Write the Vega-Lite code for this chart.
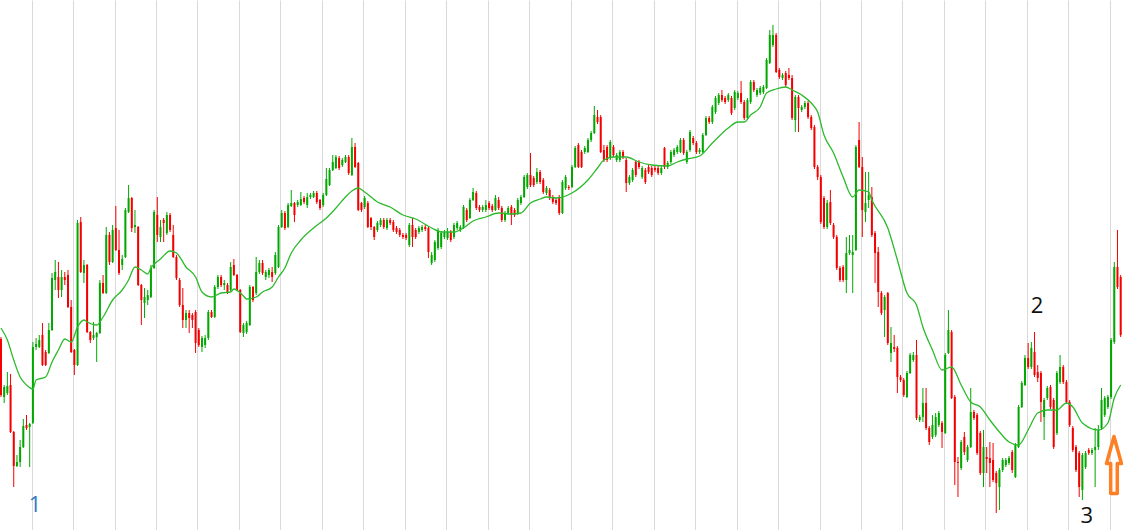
{
  "$schema": "https://vega.github.io/schema/vega-lite/v6.json",
  "description": "Weekly candlesticks with a moving average and marked turning points 1, 2, 3",
  "width": 1123,
  "height": 530,
  "autosize": {"type": "none"},
  "padding": 0,
  "background": "white",
  "datasets": {
    "candles": [
      {"t":0,"o":191,"h":193,"l":133,"c":135},{"t":1,"o":133,"h":145,"l":127,"c":143},{"t":2,"o":137,"h":158,"l":135,"c":144},
      {"t":3,"o":145,"h":156,"l":97,"c":98},{"t":4,"o":98,"h":99,"l":43,"c":64},{"t":5,"o":64,"h":75,"l":63,"c":68},
      {"t":6,"o":68,"h":90,"l":63,"c":83},{"t":7,"o":83,"h":111,"l":82,"c":104},{"t":8,"o":105,"h":115,"l":100,"c":102},
      {"t":9,"o":103,"h":107,"l":63,"c":106},{"t":10,"o":107,"h":188,"l":106,"c":183},{"t":11,"o":183,"h":192,"l":180,"c":186},
      {"t":12,"o":183,"h":195,"l":182,"c":190},{"t":13,"o":195,"h":207,"l":164,"c":165},{"t":14,"o":178,"h":180,"l":164,"c":165},
      {"t":15,"o":177,"h":207,"l":176,"c":200},{"t":16,"o":200,"h":257,"l":199,"c":252},{"t":17,"o":250,"h":270,"l":240,"c":258},
      {"t":18,"o":253,"h":268,"l":232,"c":240},{"t":19,"o":240,"h":260,"l":233,"c":253},{"t":20,"o":253,"h":258,"l":245,"c":250},
      {"t":21,"o":255,"h":260,"l":222,"c":223},{"t":22,"o":223,"h":230,"l":177,"c":178},{"t":23,"o":180,"h":181,"l":155,"c":165},
      {"t":24,"o":165,"h":310,"l":164,"c":307},{"t":25,"o":308,"h":313,"l":257,"c":258},{"t":26,"o":257,"h":270,"l":247,"c":265},
      {"t":27,"o":265,"h":266,"l":197,"c":198},{"t":28,"o":198,"h":199,"l":187,"c":190},{"t":29,"o":192,"h":208,"l":190,"c":195},
      {"t":30,"o":193,"h":198,"l":168,"c":197},{"t":31,"o":197,"h":250,"l":196,"c":247},{"t":32,"o":247,"h":255,"l":236,"c":237},
      {"t":33,"o":237,"h":303,"l":236,"c":295},{"t":34,"o":295,"h":298,"l":265,"c":268},{"t":35,"o":268,"h":305,"l":267,"c":300},
      {"t":36,"o":302,"h":324,"l":279,"c":280},{"t":37,"o":280,"h":300,"l":255,"c":257},{"t":38,"o":265,"h":275,"l":260,"c":271},
      {"t":39,"o":273,"h":322,"l":272,"c":320},{"t":40,"o":318,"h":345,"l":317,"c":332},{"t":41,"o":332,"h":333,"l":298,"c":302},
      {"t":42,"o":303,"h":320,"l":297,"c":305},{"t":43,"o":303,"h":304,"l":244,"c":245},
      {"t":44,"o":245,"h":246,"l":205,"c":230},{"t":45,"o":227,"h":242,"l":212,"c":233},{"t":46,"o":230,"h":240,"l":225,"c":235},
      {"t":47,"o":233,"h":265,"l":232,"c":262},{"t":48,"o":262,"h":320,"l":261,"c":318},{"t":49,"o":315,"h":333,"l":288,"c":295},
      {"t":50,"o":293,"h":310,"l":288,"c":303},{"t":51,"o":310,"h":312,"l":288,"c":307},{"t":52,"o":297,"h":318,"l":295,"c":315},
      {"t":53,"o":315,"h":317,"l":298,"c":300},{"t":54,"o":295,"h":305,"l":272,"c":273},{"t":55,"o":273,"h":275,"l":250,"c":252},
      {"t":56,"o":250,"h":252,"l":223,"c":225},{"t":57,"o":225,"h":242,"l":202,"c":210},{"t":58,"o":210,"h":220,"l":202,"c":217},
      {"t":59,"o":217,"h":220,"l":197,"c":212},{"t":60,"o":215,"h":217,"l":202,"c":210},{"t":61,"o":218,"h":220,"l":177,"c":187},
      {"t":62,"o":200,"h":202,"l":183,"c":185},{"t":63,"o":183,"h":194,"l":178,"c":192},{"t":64,"o":185,"h":195,"l":182,"c":192},
      {"t":65,"o":192,"h":220,"l":190,"c":218},{"t":66,"o":218,"h":220,"l":212,"c":213},{"t":67,"o":213,"h":245,"l":212,"c":243},
      {"t":68,"o":243,"h":255,"l":241,"c":253},{"t":69,"o":253,"h":255,"l":243,"c":245},{"t":70,"o":245,"h":250,"l":240,"c":247},
      {"t":71,"o":245,"h":247,"l":236,"c":238},{"t":72,"o":240,"h":268,"l":239,"c":263},{"t":73,"o":265,"h":271,"l":254,"c":255},
      {"t":74,"o":255,"h":256,"l":239,"c":240},{"t":75,"o":240,"h":241,"l":197,"c":198},{"t":76,"o":197,"h":207,"l":193,"c":205},
      {"t":77,"o":198,"h":209,"l":196,"c":207},{"t":78,"o":205,"h":245,"l":204,"c":243},{"t":79,"o":243,"h":244,"l":228,"c":230},
      {"t":80,"o":237,"h":273,"l":235,"c":258},{"t":81,"o":258,"h":270,"l":256,"c":267},{"t":82,"o":267,"h":270,"l":255,"c":257},
      {"t":83,"o":253,"h":260,"l":250,"c":258},{"t":84,"o":255,"h":262,"l":252,"c":260},{"t":85,"o":258,"h":263,"l":248,"c":253},
      {"t":86,"o":257,"h":278,"l":255,"c":275},{"t":87,"o":263,"h":305,"l":262,"c":303},{"t":88,"o":303,"h":320,"l":302,"c":317},
      {"t":89,"o":317,"h":319,"l":300,"c":302},
      {"t":90,"o":303,"h":327,"l":302,"c":325},{"t":91,"o":324,"h":340,"l":323,"c":327},{"t":92,"o":327,"h":328,"l":308,"c":315},
      {"t":93,"o":325,"h":330,"l":323,"c":328},{"t":94,"o":325,"h":338,"l":324,"c":331},{"t":95,"o":332,"h":334,"l":326,"c":328},
      {"t":96,"o":325,"h":337,"l":322,"c":333},{"t":97,"o":333,"h":337,"l":331,"c":335},{"t":98,"o":333,"h":339,"l":332,"c":337},
      {"t":99,"o":337,"h":339,"l":326,"c":328},{"t":100,"o":330,"h":331,"l":320,"c":322},{"t":101,"o":325,"h":337,"l":323,"c":335},
      {"t":102,"o":335,"h":362,"l":334,"c":351},{"t":103,"o":345,"h":362,"l":344,"c":360},{"t":104,"o":360,"h":375,"l":359,"c":368},
      {"t":105,"o":362,"h":375,"l":361,"c":373},{"t":106,"o":372,"h":374,"l":360,"c":362},{"t":107,"o":365,"h":372,"l":363,"c":370},
      {"t":108,"o":368,"h":375,"l":367,"c":373},{"t":109,"o":373,"h":375,"l":355,"c":357},{"t":110,"o":355,"h":392,"l":354,"c":383},
      {"t":111,"o":383,"h":387,"l":362,"c":363},{"t":112,"o":367,"h":368,"l":319,"c":320},{"t":113,"o":327,"h":328,"l":318,"c":320},
      {"t":114,"o":323,"h":334,"l":321,"c":332},{"t":115,"o":327,"h":329,"l":302,"c":303},{"t":116,"o":312,"h":313,"l":300,"c":303},
      {"t":117,"o":303,"h":304,"l":290,"c":293},{"t":118,"o":300,"h":309,"l":298,"c":307},{"t":119,"o":305,"h":312,"l":303,"c":310},
      {"t":120,"o":310,"h":312,"l":301,"c":303},{"t":121,"o":302,"h":312,"l":300,"c":310},{"t":122,"o":310,"h":312,"l":305,"c":307},
      {"t":123,"o":308,"h":310,"l":298,"c":300},{"t":124,"o":302,"h":304,"l":296,"c":298},{"t":125,"o":300,"h":302,"l":293,"c":295},
      {"t":126,"o":295,"h":297,"l":291,"c":293},{"t":127,"o":295,"h":297,"l":290,"c":292},{"t":128,"o":285,"h":307,"l":283,"c":305},
      {"t":129,"o":305,"h":312,"l":283,"c":293},{"t":130,"o":300,"h":302,"l":291,"c":293},{"t":131,"o":298,"h":304,"l":296,"c":302},
      {"t":132,"o":300,"h":305,"l":298,"c":303},{"t":133,"o":303,"h":305,"l":299,"c":301},
      {"t":134,"o":302,"h":304,"l":272,"c":278},{"t":135,"o":267,"h":278,"l":265,"c":275},{"t":136,"o":270,"h":290,"l":268,"c":288},
      {"t":137,"o":282,"h":302,"l":280,"c":300},{"t":138,"o":283,"h":299,"l":281,"c":297},{"t":139,"o":293,"h":300,"l":291,"c":298},
      {"t":140,"o":292,"h":302,"l":290,"c":298},{"t":141,"o":298,"h":300,"l":288,"c":290},{"t":142,"o":293,"h":307,"l":291,"c":305},
      {"t":143,"o":302,"h":309,"l":300,"c":307},{"t":144,"o":300,"h":305,"l":298,"c":303},{"t":145,"o":302,"h":325,"l":301,"c":323},
      {"t":146,"o":320,"h":322,"l":308,"c":310},{"t":147,"o":312,"h":332,"l":311,"c":330},{"t":148,"o":330,"h":342,"l":329,"c":338},
      {"t":149,"o":337,"h":339,"l":320,"c":322},{"t":150,"o":323,"h":325,"l":318,"c":320},{"t":151,"o":320,"h":325,"l":318,"c":323},
      {"t":152,"o":320,"h":330,"l":318,"c":325},{"t":153,"o":327,"h":329,"l":320,"c":322},{"t":154,"o":324,"h":326,"l":318,"c":320},
      {"t":155,"o":320,"h":335,"l":319,"c":332},{"t":156,"o":330,"h":333,"l":320,"c":322},{"t":157,"o":322,"h":324,"l":308,"c":310},
      {"t":158,"o":310,"h":319,"l":308,"c":317},{"t":159,"o":317,"h":324,"l":315,"c":322},{"t":160,"o":323,"h":325,"l":305,"c":315},
      {"t":161,"o":320,"h":322,"l":313,"c":315},{"t":162,"o":317,"h":332,"l":315,"c":330},{"t":163,"o":327,"h":335,"l":325,"c":333},
      {"t":164,"o":333,"h":355,"l":332,"c":353},{"t":165,"o":343,"h":357,"l":341,"c":355},{"t":166,"o":355,"h":377,"l":343,"c":345},
      {"t":167,"o":352,"h":354,"l":343,"c":345},{"t":168,"o":348,"h":362,"l":346,"c":358},{"t":169,"o":358,"h":360,"l":346,"c":348},
      {"t":170,"o":350,"h":352,"l":336,"c":338},{"t":171,"o":337,"h":344,"l":335,"c":342},{"t":172,"o":340,"h":342,"l":330,"c":332},
      {"t":173,"o":333,"h":335,"l":326,"c":328},{"t":174,"o":330,"h":332,"l":325,"c":327},{"t":175,"o":333,"h":335,"l":315,"c":317},
      {"t":176,"o":317,"h":350,"l":316,"c":348},
      {"t":177,"o":342,"h":355,"l":340,"c":353},{"t":178,"o":343,"h":345,"l":340,"c":342},{"t":179,"o":343,"h":365,"l":342,"c":363},
      {"t":180,"o":363,"h":384,"l":362,"c":382},{"t":181,"o":385,"h":387,"l":362,"c":363},{"t":182,"o":378,"h":380,"l":362,"c":363},
      {"t":183,"o":378,"h":384,"l":376,"c":382},{"t":184,"o":378,"h":392,"l":377,"c":390},{"t":185,"o":390,"h":399,"l":388,"c":397},
      {"t":186,"o":397,"h":424,"l":396,"c":415},{"t":187,"o":413,"h":420,"l":406,"c":408},{"t":188,"o":413,"h":415,"l":377,"c":378},
      {"t":189,"o":380,"h":385,"l":368,"c":370},{"t":190,"o":383,"h":385,"l":368,"c":370},{"t":191,"o":372,"h":390,"l":370,"c":388},
      {"t":192,"o":383,"h":385,"l":373,"c":375},{"t":193,"o":370,"h":377,"l":368,"c":375},{"t":194,"o":370,"h":380,"l":368,"c":378},
      {"t":195,"o":378,"h":380,"l":371,"c":373},{"t":196,"o":370,"h":372,"l":338,"c":347},{"t":197,"o":347,"h":355,"l":345,"c":353},
      {"t":198,"o":350,"h":362,"l":348,"c":360},{"t":199,"o":368,"h":370,"l":353,"c":355},{"t":200,"o":368,"h":370,"l":361,"c":363},
      {"t":201,"o":353,"h":364,"l":351,"c":362},{"t":202,"o":360,"h":362,"l":346,"c":348},{"t":203,"o":363,"h":365,"l":356,"c":358},
      {"t":204,"o":362,"h":364,"l":353,"c":355},{"t":205,"o":362,"h":364,"l":358,"c":360},{"t":206,"o":362,"h":364,"l":355,"c":357},
      {"t":207,"o":357,"h":364,"l":355,"c":362},{"t":208,"o":382,"h":383,"l":361,"c":363},{"t":209,"o":363,"h":369,"l":361,"c":367},
      {"t":210,"o":368,"h":380,"l":366,"c":378},{"t":211,"o":375,"h":382,"l":373,"c":380},{"t":212,"o":378,"h":385,"l":376,"c":383},
      {"t":213,"o":378,"h":392,"l":377,"c":390},{"t":214,"o":390,"h":392,"l":375,"c":377},{"t":215,"o":368,"h":380,"l":366,"c":378},
      {"t":216,"o":380,"h":400,"l":378,"c":398},{"t":217,"o":392,"h":394,"l":385,"c":387},{"t":218,"o":387,"h":389,"l":376,"c":378},
      {"t":219,"o":378,"h":382,"l":376,"c":380},{"t":220,"o":378,"h":397,"l":377,"c":395},{"t":221,"o":395,"h":414,"l":394,"c":412},
      {"t":222,"o":412,"h":414,"l":406,"c":408},
      {"t":223,"o":408,"h":425,"l":406,"c":423},{"t":224,"o":418,"h":434,"l":416,"c":432},{"t":225,"o":427,"h":437,"l":425,"c":435},
      {"t":226,"o":435,"h":440,"l":428,"c":430},{"t":227,"o":432,"h":434,"l":426,"c":428},{"t":228,"o":430,"h":437,"l":428,"c":435},
      {"t":229,"o":432,"h":434,"l":415,"c":417},{"t":230,"o":422,"h":440,"l":420,"c":438},{"t":231,"o":432,"h":439,"l":430,"c":437},
      {"t":232,"o":437,"h":449,"l":426,"c":428},{"t":233,"o":428,"h":430,"l":410,"c":412},{"t":234,"o":412,"h":432,"l":410,"c":430},
      {"t":235,"o":428,"h":450,"l":426,"c":448},{"t":236,"o":448,"h":450,"l":438,"c":440},{"t":237,"o":435,"h":442,"l":433,"c":440},
      {"t":238,"o":437,"h":444,"l":435,"c":442},{"t":239,"o":438,"h":445,"l":436,"c":443},{"t":240,"o":442,"h":472,"l":441,"c":470},
      {"t":241,"o":467,"h":500,"l":466,"c":495},{"t":242,"o":485,"h":505,"l":483,"c":495},{"t":243,"o":495,"h":497,"l":457,"c":458},
      {"t":244,"o":460,"h":462,"l":451,"c":453},{"t":245,"o":452,"h":457,"l":450,"c":455},{"t":246,"o":457,"h":459,"l":443,"c":445},
      {"t":247,"o":455,"h":462,"l":450,"c":452},{"t":248,"o":452,"h":455,"l":410,"c":412},{"t":249,"o":410,"h":435,"l":398,"c":433},
      {"t":250,"o":433,"h":435,"l":398,"c":422},{"t":251,"o":420,"h":425,"l":418,"c":423},{"t":252,"o":423,"h":429,"l":421,"c":427},
      {"t":253,"o":427,"h":429,"l":411,"c":413},{"t":254,"o":413,"h":415,"l":400,"c":402},{"t":255,"o":403,"h":405,"l":361,"c":363},
      {"t":256,"o":363,"h":365,"l":350,"c":353},{"t":257,"o":353,"h":355,"l":306,"c":308},{"t":258,"o":332,"h":334,"l":301,"c":303},
      {"t":259,"o":303,"h":330,"l":301,"c":327},{"t":260,"o":328,"h":340,"l":305,"c":307},{"t":261,"o":305,"h":307,"l":291,"c":293},
      {"t":262,"o":293,"h":295,"l":260,"c":262},{"t":263,"o":262,"h":264,"l":248,"c":250},{"t":264,"o":263,"h":265,"l":248,"c":250},
      {"t":265,"o":250,"h":293,"l":237,"c":277},{"t":266,"o":277,"h":295,"l":275,"c":280},
      {"t":267,"o":275,"h":295,"l":237,"c":278},{"t":268,"o":280,"h":385,"l":279,"c":383},{"t":269,"o":390,"h":408,"l":362,"c":363},
      {"t":270,"o":363,"h":373,"l":293,"c":320},{"t":271,"o":318,"h":358,"l":308,"c":327},{"t":272,"o":330,"h":358,"l":322,"c":335},
      {"t":273,"o":333,"h":343,"l":293,"c":295},{"t":274,"o":297,"h":299,"l":247,"c":277},{"t":275,"o":278,"h":283,"l":223,"c":238},
      {"t":276,"o":237,"h":239,"l":215,"c":217},{"t":277,"o":220,"h":235,"l":193,"c":233},{"t":278,"o":237,"h":238,"l":185,"c":187},
      {"t":279,"o":177,"h":203,"l":168,"c":187},{"t":280,"o":183,"h":195,"l":178,"c":181},{"t":281,"o":182,"h":184,"l":137,"c":153},
      {"t":282,"o":153,"h":155,"l":148,"c":150},{"t":283,"o":150,"h":152,"l":133,"c":135},{"t":284,"o":133,"h":159,"l":132,"c":157},
      {"t":285,"o":157,"h":177,"l":156,"c":175},{"t":286,"o":170,"h":178,"l":168,"c":175},{"t":287,"o":175,"h":190,"l":110,"c":112},
      {"t":288,"o":110,"h":115,"l":108,"c":113},{"t":289,"o":113,"h":142,"l":108,"c":127},{"t":290,"o":127,"h":142,"l":100,"c":102},
      {"t":291,"o":102,"h":104,"l":85,"c":88},{"t":292,"o":93,"h":115,"l":91,"c":105},{"t":293,"o":95,"h":117,"l":93,"c":113},
      {"t":294,"o":105,"h":119,"l":103,"c":117},{"t":295,"o":107,"h":109,"l":82,"c":98},{"t":296,"o":97,"h":177,"l":96,"c":175},
      {"t":297,"o":177,"h":220,"l":176,"c":200},{"t":298,"o":198,"h":200,"l":131,"c":132},{"t":299,"o":133,"h":135,"l":45,"c":68},
      {"t":300,"o":68,"h":73,"l":33,"c":67},{"t":301,"o":62,"h":90,"l":60,"c":88},
      {"t":302,"o":93,"h":98,"l":75,"c":78},{"t":303,"o":70,"h":85,"l":68,"c":83},{"t":304,"o":83,"h":142,"l":82,"c":118},
      {"t":305,"o":118,"h":120,"l":110,"c":112},{"t":306,"o":115,"h":117,"l":75,"c":77},{"t":307,"o":97,"h":99,"l":55,"c":57},
      {"t":308,"o":57,"h":100,"l":43,"c":83},{"t":309,"o":73,"h":83,"l":57,"c":71},{"t":310,"o":72,"h":88,"l":43,"c":67},
      {"t":311,"o":70,"h":87,"l":48,"c":50},{"t":312,"o":57,"h":59,"l":17,"c":47},{"t":313,"o":43,"h":62,"l":20,"c":60},
      {"t":314,"o":60,"h":72,"l":58,"c":70},{"t":315,"o":65,"h":72,"l":63,"c":70},{"t":316,"o":67,"h":74,"l":65,"c":72},
      {"t":317,"o":78,"h":80,"l":57,"c":60},{"t":318,"o":53,"h":87,"l":52,"c":85},{"t":319,"o":83,"h":125,"l":82,"c":123},
      {"t":320,"o":123,"h":149,"l":122,"c":147},{"t":321,"o":145,"h":175,"l":144,"c":172},{"t":322,"o":172,"h":187,"l":161,"c":163},
      {"t":323,"o":163,"h":188,"l":161,"c":182},{"t":324,"o":178,"h":198,"l":153,"c":155},{"t":325,"o":158,"h":165,"l":148,"c":152},
      {"t":326,"o":157,"h":159,"l":108,"c":128},{"t":327,"o":113,"h":132,"l":90,"c":130},{"t":328,"o":132,"h":144,"l":130,"c":142},
      {"t":329,"o":143,"h":145,"l":121,"c":123},{"t":330,"o":130,"h":132,"l":81,"c":83},{"t":331,"o":97,"h":159,"l":95,"c":157},
      {"t":332,"o":148,"h":175,"l":146,"c":163},{"t":333,"o":163,"h":165,"l":146,"c":148},{"t":334,"o":148,"h":150,"l":126,"c":128},
      {"t":335,"o":128,"h":130,"l":103,"c":105},{"t":336,"o":102,"h":104,"l":78,"c":80},{"t":337,"o":83,"h":85,"l":58,"c":60},
      {"t":338,"o":77,"h":79,"l":33,"c":43},{"t":339,"o":40,"h":77,"l":30,"c":75},{"t":340,"o":63,"h":79,"l":61,"c":77},
      {"t":341,"o":80,"h":82,"l":75,"c":77},{"t":342,"o":77,"h":82,"l":75,"c":80},{"t":343,"o":80,"h":102,"l":43,"c":83},
      {"t":344,"o":83,"h":105,"l":80,"c":100},{"t":345,"o":102,"h":142,"l":100,"c":130},{"t":346,"o":115,"h":134,"l":113,"c":132},
      {"t":347,"o":123,"h":135,"l":121,"c":133},{"t":348,"o":133,"h":192,"l":131,"c":190},{"t":349,"o":188,"h":268,"l":186,"c":263},
      {"t":350,"o":263,"h":300,"l":241,"c":243},{"t":351,"o":253,"h":255,"l":193,"c":195}
    ],
    "ma": [
      {"t":0,"v":202},{"t":2,"v":190},{"t":4,"v":170},{"t":6,"v":153},{"t":8,"v":145},{"t":10,"v":141},{"t":11,"v":150},
      {"t":14,"v":153},{"t":16,"v":168},{"t":18,"v":180},{"t":20,"v":191},{"t":22,"v":188},{"t":24,"v":203},{"t":26,"v":210},
      {"t":27,"v":208},{"t":30,"v":205},{"t":32,"v":213},{"t":35,"v":230},{"t":38,"v":240},{"t":40,"v":250},{"t":42,"v":263},
      {"t":44,"v":260},{"t":46,"v":256},{"t":47,"v":262},{"t":50,"v":271},{"t":53,"v":279},{"t":55,"v":277},{"t":58,"v":263},
      {"t":61,"v":253},{"t":63,"v":238},{"t":66,"v":233},{"t":69,"v":237},{"t":72,"v":238},{"t":73,"v":241},{"t":76,"v":234},
      {"t":77,"v":231},{"t":80,"v":233},{"t":82,"v":238},{"t":85,"v":243},{"t":87,"v":253},{"t":89,"v":262},{"t":91,"v":277},
      {"t":94,"v":290},{"t":98,"v":302},{"t":102,"v":312},{"t":105,"v":322},{"t":108,"v":333},{"t":110,"v":339},{"t":112,"v":342},
      {"t":114,"v":338},{"t":118,"v":328},{"t":122,"v":323},{"t":126,"v":315},{"t":130,"v":311},{"t":135,"v":302},{"t":138,"v":298},
      {"t":142,"v":298},{"t":145,"v":302},{"t":148,"v":309},{"t":152,"v":313},{"t":156,"v":317},{"t":160,"v":316},{"t":163,"v":317},
      {"t":166,"v":327},{"t":169,"v":331},{"t":171,"v":333},{"t":174,"v":332},{"t":179,"v":337},{"t":184,"v":350},{"t":187,"v":362},
      {"t":189,"v":370},{"t":192,"v":373},{"t":196,"v":373},{"t":200,"v":368},{"t":204,"v":365},{"t":209,"v":364},{"t":212,"v":368},
      {"t":215,"v":371},{"t":219,"v":374},{"t":223,"v":387},{"t":228,"v":402},{"t":231,"v":408},{"t":233,"v":408},{"t":235,"v":415},
      {"t":238,"v":423},{"t":240,"v":437},{"t":243,"v":441},{"t":246,"v":443},{"t":248,"v":440},{"t":251,"v":435},{"t":254,"v":427},
      {"t":256,"v":418},{"t":258,"v":395},{"t":261,"v":377},{"t":264,"v":353},{"t":267,"v":333},{"t":269,"v":340},{"t":272,"v":338},
      {"t":273,"v":330},{"t":278,"v":302},{"t":281,"v":270},{"t":284,"v":237},{"t":287,"v":225},{"t":289,"v":203},{"t":292,"v":180},
      {"t":295,"v":160},{"t":298,"v":163},{"t":301,"v":145},{"t":304,"v":128},{"t":307,"v":123},{"t":310,"v":110},{"t":313,"v":98},
      {"t":316,"v":88},{"t":319,"v":85},{"t":322,"v":100},{"t":325,"v":117},{"t":328,"v":120},{"t":331,"v":120},{"t":334,"v":127},
      {"t":336,"v":123},{"t":339,"v":107},{"t":344,"v":100},{"t":347,"v":107},{"t":349,"v":132},{"t":351,"v":145}
    ],
    "labels": [
      {"t":10.7,"p":18,"label":"1"},
      {"t":324.8,"p":217,"label":"2"},
      {"t":340.4,"p":7,"label":"3"}
    ],
    "signal": [
      {"t":348.9,"p":65}
    ]
  },
  "layer": [
    {
      "data": {"name": "candles"},
      "mark": {"type": "rule", "strokeWidth": 1},
      "encoding": {
        "x": {
          "field": "t",
          "type": "quantitative",
          "scale": {"domain": [-0.31, 351.73], "nice": false, "zero": false, "padding": 0},
          "axis": {
            "values": [9.6, 22.6, 35.6, 48.6, 61.6, 74.6, 87.6, 100.6, 113.6, 126.6, 139.6, 152.6, 165.6, 178.6, 191.6, 204.6, 217.6, 230.6, 243.6, 256.6, 269.6, 282.6, 295.6, 308.6, 321.6, 334.6, 347.6],
            "grid": true,
            "gridColor": "#d9d9d9",
            "gridWidth": 1,
            "labels": false,
            "ticks": false,
            "domain": false,
            "title": null
          }
        },
        "y": {
          "field": "l",
          "type": "quantitative",
          "scale": {"domain": [0, 530], "nice": false, "zero": false, "padding": 0},
          "axis": null
        },
        "y2": {"field": "h"},
        "color": {"condition": {"test": "datum.c >= datum.o", "value": "#00a800"}, "value": "#f50000"}
      }
    },
    {
      "data": {"name": "candles"},
      "mark": {"type": "bar", "width": 2},
      "encoding": {
        "x": {"field": "t", "type": "quantitative"},
        "y": {"field": "o", "type": "quantitative"},
        "y2": {"field": "c"},
        "color": {"condition": {"test": "datum.c >= datum.o", "value": "#00a800"}, "value": "#f50000"}
      }
    },
    {
      "data": {"name": "ma"},
      "mark": {"type": "line", "interpolate": "monotone", "strokeWidth": 1.3, "color": "#2cba2c"},
      "encoding": {
        "x": {"field": "t", "type": "quantitative"},
        "y": {"field": "v", "type": "quantitative"}
      }
    },
    {
      "data": {"name": "labels"},
      "mark": {"type": "text", "font": "Open Sans", "fontSize": 22, "baseline": "alphabetic", "align": "center"},
      "encoding": {
        "x": {"field": "t", "type": "quantitative"},
        "y": {"field": "p", "type": "quantitative"},
        "text": {"field": "label"},
        "color": {"condition": {"test": "datum.label == '1'", "value": "#2f78c4"}, "value": "#111111"}
      }
    },
    {
      "data": {"name": "signal"},
      "mark": {
        "type": "point",
        "shape": "M0,-0.95 L0.25,-0.05 L0.11,-0.05 L0.11,0.95 L-0.11,0.95 L-0.11,-0.05 L-0.25,-0.05 Z",
        "filled": false,
        "stroke": "#ff7f24",
        "strokeWidth": 3.5,
        "strokeJoin": "round",
        "opacity": 1,
        "size": 3600
      },
      "encoding": {
        "x": {"field": "t", "type": "quantitative"},
        "y": {"field": "p", "type": "quantitative"}
      }
    }
  ],
  "config": {
    "view": {"stroke": null}
  }
}
